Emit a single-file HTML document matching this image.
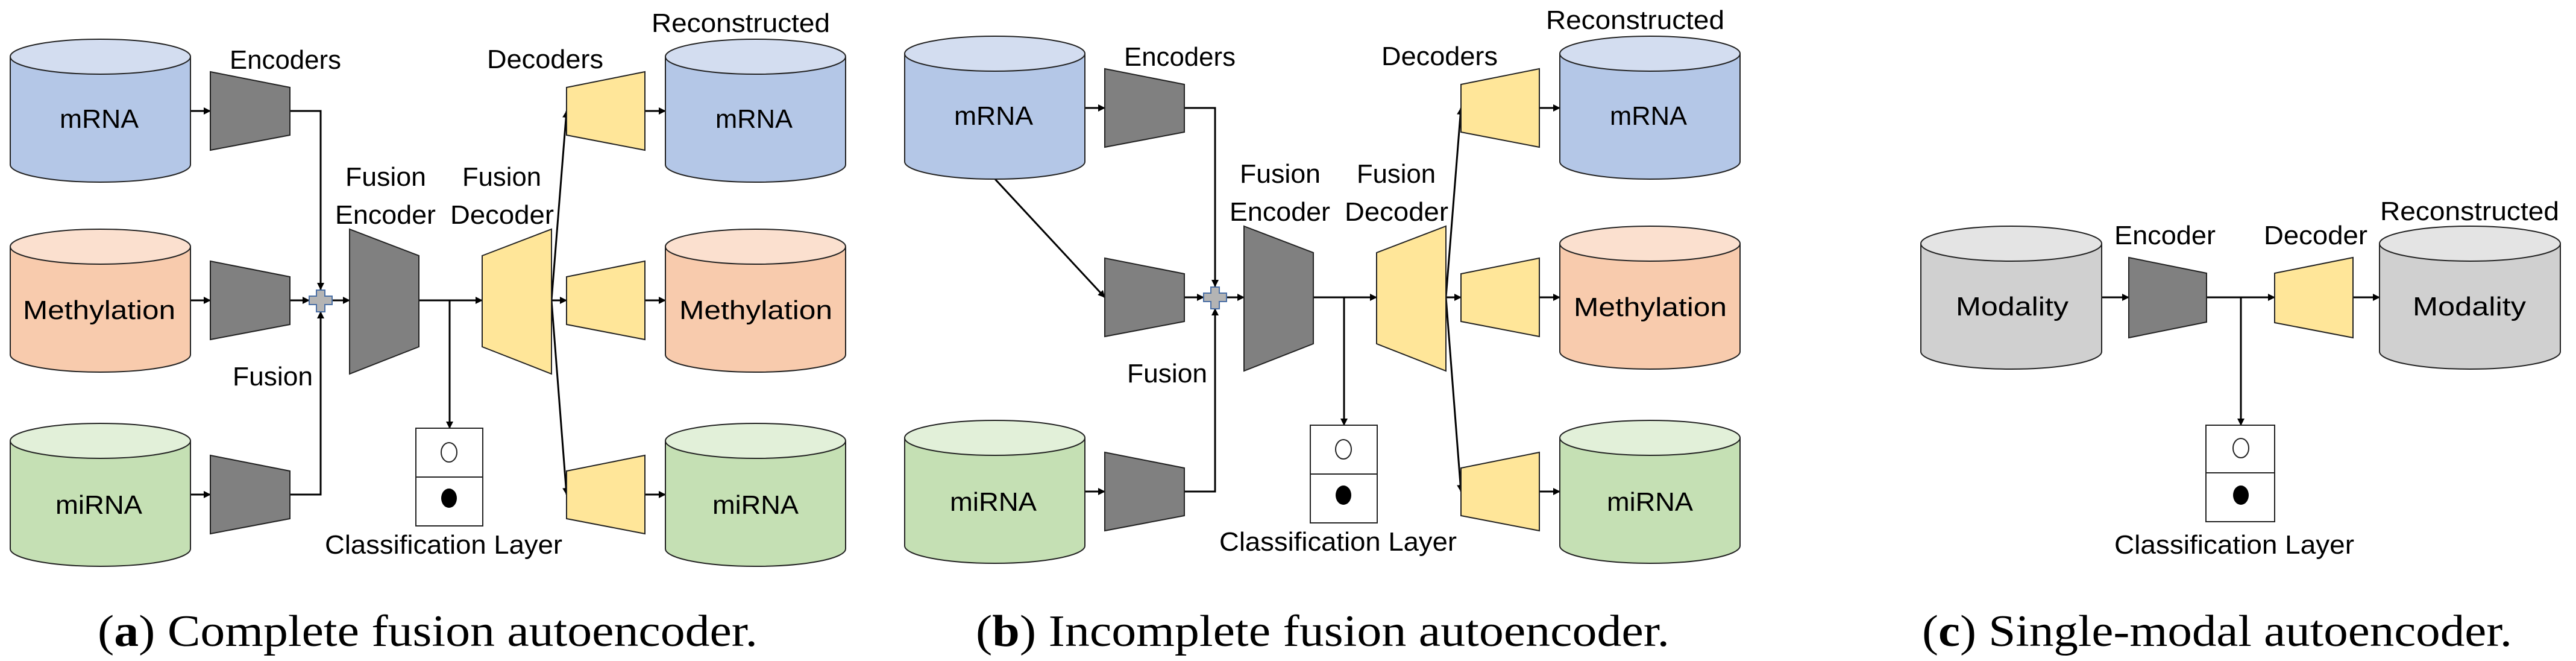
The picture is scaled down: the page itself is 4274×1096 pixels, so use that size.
<!DOCTYPE html>
<html><head><meta charset="utf-8"><style>
html,body{margin:0;padding:0;background:#fff;}
svg{display:block;}
.t{font-family:"Liberation Sans",sans-serif;font-size:44px;fill:#000;}
.cap{font-family:"Liberation Serif",serif;font-size:74px;fill:#000;}
</style></head><body>
<svg width="4274" height="1096" viewBox="0 0 4274 1096" xmlns="http://www.w3.org/2000/svg">
<defs>
<marker id="ah" markerWidth="12" markerHeight="12" refX="11" refY="6" orient="auto" markerUnits="userSpaceOnUse">
<path d="M0,0 L12,6 L0,12 z" fill="#000"/></marker>
<g id="cylB"><path d="M0,29 L0,208 A149.5,29 0 0 0 299,208 L299,29" fill="#b4c7e7" stroke="#222" stroke-width="2"/><ellipse cx="149.5" cy="29" rx="149.5" ry="29" fill="#d3ddf0" stroke="#222" stroke-width="2"/></g>
<g id="cylO"><path d="M0,29 L0,208 A149.5,29 0 0 0 299,208 L299,29" fill="#f8cbad" stroke="#222" stroke-width="2"/><ellipse cx="149.5" cy="29" rx="149.5" ry="29" fill="#fbe0cf" stroke="#222" stroke-width="2"/></g>
<g id="cylG"><path d="M0,29 L0,208 A149.5,29 0 0 0 299,208 L299,29" fill="#c5e0b4" stroke="#222" stroke-width="2"/><ellipse cx="149.5" cy="29" rx="149.5" ry="29" fill="#e2f0d9" stroke="#222" stroke-width="2"/></g>
<g id="cylY"><path d="M0,29 L0,208 A150,29 0 0 0 300,208 L300,29" fill="#d0d0d0" stroke="#222" stroke-width="2"/><ellipse cx="150" cy="29" rx="150" ry="29" fill="#e4e4e4" stroke="#222" stroke-width="2"/></g>
<polygon id="enc" points="0,0 132,26 132,105 0,130" fill="#808080" stroke="#222" stroke-width="2"/>
<polygon id="dec" points="0,26 130,0 130,130 0,105" fill="#ffe699" stroke="#222" stroke-width="2"/>
<g id="cls"><rect x="0" y="0" width="111" height="162" fill="#fff" stroke="#222" stroke-width="2"/><line x1="0" y1="81" x2="111" y2="81" stroke="#222" stroke-width="2"/><ellipse cx="55" cy="40" rx="13" ry="16" fill="#fff" stroke="#222" stroke-width="2"/><ellipse cx="55" cy="116" rx="13" ry="16" fill="#000"/></g>
<path id="plus" d="M525,481 h14 v10 h12 v14 h-12 v12 h-14 v-12 h-12 v-14 h12 z" fill="#b4b4b4" stroke="#4a6fa5" stroke-width="2"/>
</defs>

<!-- Panel A -->
<g id="pa">
<g fill="none" stroke="#000" stroke-width="3">
<line x1="316" y1="184" x2="349" y2="184" marker-end="url(#ah)"/>
<line x1="316" y1="498" x2="349" y2="498" marker-end="url(#ah)"/>
<line x1="316" y1="820" x2="349" y2="820" marker-end="url(#ah)"/>
<polyline points="481,184 532,184 532,480" marker-end="url(#ah)"/>
<line x1="481" y1="498" x2="513" y2="498" marker-end="url(#ah)"/>
<polyline points="481,820 532,820 532,517" marker-end="url(#ah)"/>
<line x1="551" y1="498" x2="580" y2="498" marker-end="url(#ah)"/>
<line x1="695" y1="498" x2="800" y2="498" marker-end="url(#ah)"/>
<line x1="746" y1="498" x2="746" y2="710" marker-end="url(#ah)"/>
<line x1="915" y1="498" x2="940" y2="184" marker-end="url(#ah)"/>
<line x1="915" y1="498" x2="940" y2="498" marker-end="url(#ah)"/>
<line x1="915" y1="498" x2="940" y2="820" marker-end="url(#ah)"/>
<line x1="1070" y1="184" x2="1104" y2="184" marker-end="url(#ah)"/>
<line x1="1070" y1="498" x2="1104" y2="498" marker-end="url(#ah)"/>
<line x1="1070" y1="820" x2="1104" y2="820" marker-end="url(#ah)"/>
</g>
<use href="#cylB" x="17" y="65"/>
<use href="#cylO" x="17" y="380" class="lmeth"/>
<use href="#cylG" x="17" y="702"/>
<use href="#cylB" x="1104" y="65"/>
<use href="#cylO" x="1104" y="380"/>
<use href="#cylG" x="1104" y="702"/>
<use href="#enc" x="349" y="119"/>
<use href="#enc" x="349" y="433"/>
<use href="#enc" x="349" y="755"/>
<use href="#plus"/>
<polygon points="580,380 695,424 695,575 580,620" fill="#808080" stroke="#222" stroke-width="2"/>
<polygon points="800,424 915,380 915,620 800,575" fill="#ffe699" stroke="#222" stroke-width="2"/>
<use href="#dec" x="940" y="119"/>
<use href="#dec" x="940" y="433"/>
<use href="#dec" x="940" y="755"/>
<use href="#cls" x="690" y="710"/>
<text class="t" x="99" y="212" textLength="131" lengthAdjust="spacingAndGlyphs">mRNA</text>
<text class="t" x="38" y="529" textLength="253" lengthAdjust="spacingAndGlyphs">Methylation</text>
<text class="t" x="92" y="852" textLength="144" lengthAdjust="spacingAndGlyphs">miRNA</text>
<text class="t" x="1187" y="212" textLength="128" lengthAdjust="spacingAndGlyphs">mRNA</text>
<text class="t" x="1127" y="529" textLength="254" lengthAdjust="spacingAndGlyphs">Methylation</text>
<text class="t" x="1182" y="852" textLength="143" lengthAdjust="spacingAndGlyphs">miRNA</text>
<text class="t" x="381" y="114" textLength="185" lengthAdjust="spacingAndGlyphs">Encoders</text>
<text class="t" x="808" y="113" textLength="193" lengthAdjust="spacingAndGlyphs">Decoders</text>
<text class="t" x="1081" y="53" textLength="296" lengthAdjust="spacingAndGlyphs">Reconstructed</text>
<text class="t" x="573" y="308" textLength="134" lengthAdjust="spacingAndGlyphs">Fusion</text>
<text class="t" x="556" y="371" textLength="167" lengthAdjust="spacingAndGlyphs">Encoder</text>
<text class="t" x="767" y="308" textLength="131" lengthAdjust="spacingAndGlyphs">Fusion</text>
<text class="t" x="747" y="371" textLength="172" lengthAdjust="spacingAndGlyphs">Decoder</text>
<text class="t" x="386" y="639" textLength="133" lengthAdjust="spacingAndGlyphs">Fusion</text>
<text class="t" x="539" y="918" textLength="394" lengthAdjust="spacingAndGlyphs">Classification Layer</text>
</g>
<text class="cap" x="162" y="1071" textLength="1095" lengthAdjust="spacingAndGlyphs">(<tspan font-weight="bold">a</tspan>) Complete fusion autoencoder.</text>

<!-- Panel B -->
<g transform="translate(1484,-5)">
<g fill="none" stroke="#000" stroke-width="3">
<line x1="316" y1="184" x2="349" y2="184" marker-end="url(#ah)"/>
<line x1="167" y1="302" x2="349" y2="498" marker-end="url(#ah)"/>
<line x1="316" y1="820" x2="349" y2="820" marker-end="url(#ah)"/>
<polyline points="481,184 532,184 532,480" marker-end="url(#ah)"/>
<line x1="481" y1="498" x2="513" y2="498" marker-end="url(#ah)"/>
<polyline points="481,820 532,820 532,517" marker-end="url(#ah)"/>
<line x1="551" y1="498" x2="580" y2="498" marker-end="url(#ah)"/>
<line x1="695" y1="498" x2="800" y2="498" marker-end="url(#ah)"/>
<line x1="746" y1="498" x2="746" y2="710" marker-end="url(#ah)"/>
<line x1="915" y1="498" x2="940" y2="184" marker-end="url(#ah)"/>
<line x1="915" y1="498" x2="940" y2="498" marker-end="url(#ah)"/>
<line x1="915" y1="498" x2="940" y2="820" marker-end="url(#ah)"/>
<line x1="1070" y1="184" x2="1104" y2="184" marker-end="url(#ah)"/>
<line x1="1070" y1="498" x2="1104" y2="498" marker-end="url(#ah)"/>
<line x1="1070" y1="820" x2="1104" y2="820" marker-end="url(#ah)"/>
</g>
<use href="#cylB" x="17" y="65"/>
<use href="#cylG" x="17" y="702"/>
<use href="#cylB" x="1104" y="65"/>
<use href="#cylO" x="1104" y="380"/>
<use href="#cylG" x="1104" y="702"/>
<use href="#enc" x="349" y="119"/>
<use href="#enc" x="349" y="433"/>
<use href="#enc" x="349" y="755"/>
<use href="#plus"/>
<polygon points="580,380 695,424 695,575 580,620" fill="#808080" stroke="#222" stroke-width="2"/>
<polygon points="800,424 915,380 915,620 800,575" fill="#ffe699" stroke="#222" stroke-width="2"/>
<use href="#dec" x="940" y="119"/>
<use href="#dec" x="940" y="433"/>
<use href="#dec" x="940" y="755"/>
<use href="#cls" x="690" y="710"/>
<text class="t" x="99" y="212" textLength="131" lengthAdjust="spacingAndGlyphs">mRNA</text>
<text class="t" x="92" y="852" textLength="144" lengthAdjust="spacingAndGlyphs">miRNA</text>
<text class="t" x="1187" y="212" textLength="128" lengthAdjust="spacingAndGlyphs">mRNA</text>
<text class="t" x="1127" y="529" textLength="254" lengthAdjust="spacingAndGlyphs">Methylation</text>
<text class="t" x="1182" y="852" textLength="143" lengthAdjust="spacingAndGlyphs">miRNA</text>
<text class="t" x="381" y="114" textLength="185" lengthAdjust="spacingAndGlyphs">Encoders</text>
<text class="t" x="808" y="113" textLength="193" lengthAdjust="spacingAndGlyphs">Decoders</text>
<text class="t" x="1081" y="53" textLength="296" lengthAdjust="spacingAndGlyphs">Reconstructed</text>
<text class="t" x="573" y="308" textLength="134" lengthAdjust="spacingAndGlyphs">Fusion</text>
<text class="t" x="556" y="371" textLength="167" lengthAdjust="spacingAndGlyphs">Encoder</text>
<text class="t" x="767" y="308" textLength="131" lengthAdjust="spacingAndGlyphs">Fusion</text>
<text class="t" x="747" y="371" textLength="172" lengthAdjust="spacingAndGlyphs">Decoder</text>
<text class="t" x="386" y="639" textLength="133" lengthAdjust="spacingAndGlyphs">Fusion</text>
<text class="t" x="539" y="918" textLength="394" lengthAdjust="spacingAndGlyphs">Classification Layer</text>
</g>
<text class="cap" x="1619" y="1071" textLength="1151" lengthAdjust="spacingAndGlyphs">(<tspan font-weight="bold">b</tspan>) Incomplete fusion autoencoder.</text>

<!-- Panel C -->
<g fill="none" stroke="#000" stroke-width="3">
<line x1="3487" y1="493" x2="3532" y2="493" marker-end="url(#ah)"/>
<line x1="3661" y1="493" x2="3774" y2="493" marker-end="url(#ah)"/>
<line x1="3718" y1="493" x2="3718" y2="705" marker-end="url(#ah)"/>
<line x1="3904" y1="493" x2="3948" y2="493" marker-end="url(#ah)"/>
</g>
<use href="#cylY" x="3187" y="375"/>
<use href="#cylY" x="3948" y="375"/>
<polygon points="3532,427 3661,453 3661,534 3532,560" fill="#808080" stroke="#222" stroke-width="2"/>
<polygon points="3774,453 3904,427 3904,560 3774,535" fill="#ffe699" stroke="#222" stroke-width="2"/>
<g transform="translate(3660,705)"><rect x="0" y="0" width="114" height="160" fill="#fff" stroke="#222" stroke-width="2"/><line x1="0" y1="79" x2="114" y2="79" stroke="#222" stroke-width="2"/><ellipse cx="58" cy="38" rx="13" ry="16" fill="#fff" stroke="#222" stroke-width="2"/><ellipse cx="58" cy="116" rx="13" ry="16" fill="#000"/></g>
<text class="t" x="3245" y="523" textLength="187" lengthAdjust="spacingAndGlyphs">Modality</text>
<text class="t" x="4003" y="523" textLength="188" lengthAdjust="spacingAndGlyphs">Modality</text>
<text class="t" x="3508" y="405" textLength="168" lengthAdjust="spacingAndGlyphs">Encoder</text>
<text class="t" x="3756" y="405" textLength="172" lengthAdjust="spacingAndGlyphs">Decoder</text>
<text class="t" x="3949" y="365" textLength="297" lengthAdjust="spacingAndGlyphs">Reconstructed</text>
<text class="t" x="3508" y="918" textLength="398" lengthAdjust="spacingAndGlyphs">Classification Layer</text>
<text class="cap" x="3189" y="1071" textLength="979" lengthAdjust="spacingAndGlyphs">(<tspan font-weight="bold">c</tspan>) Single-modal autoencoder.</text>
</svg>
</body></html>
